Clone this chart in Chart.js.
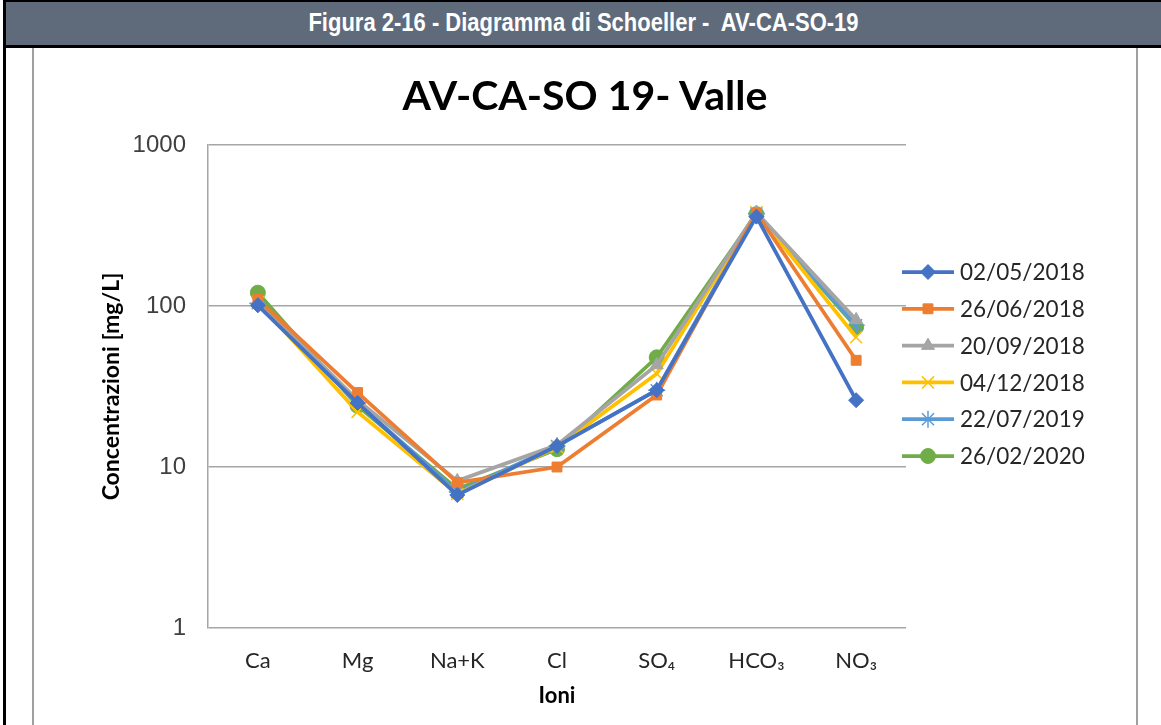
<!DOCTYPE html>
<html>
<head>
<meta charset="utf-8">
<script src="https://cdn.jsdelivr.net/npm/chart.js@4"></script>
<style>
  body { margin: 0; background: #fff; }
  #frame { position: absolute; left: 3px; top: 0; width: 1158px; height: 725px; border-left: 3px solid #000; border-top: 2px solid #000; box-sizing: border-box; }
  #header { position: absolute; left: 0; top: 0; width: 100%; height: 46px; background: #5f6b7a; border-bottom: 3px solid #000; box-sizing: border-box;
            color: #fff; font-family: "Liberation Sans", Arial, sans-serif; font-weight: bold; font-size: 22px; text-align: center; line-height: 42px; }
  #header span { display: inline-block; transform: scaleY(1.15); }
  #box { position: absolute; left: 32px; top: 48px; width: 1106px; height: 677px; border-left: 2px solid #a0a0a0; border-right: 2px solid #a0a0a0; box-sizing: border-box; }
  #wrap { position: absolute; left: 34px; top: 48px; width: 1102px; height: 677px; }
  #titolo { position: absolute; left: 34px; top: 70px; width: 1102px; text-align: center; font-family: Lato, "Open Sans", sans-serif;
            font-weight: bold; font-size: 41px; line-height: 50px; color: #000; }
</style>
</head>
<body>
<div id="frame"><div id="header"><span>Figura 2-16 - Diagramma di Schoeller -&nbsp; AV-CA-SO-19</span></div></div>
<div id="box"></div>
<div id="wrap"><canvas id="grafica"></canvas></div>
<div id="titolo">AV-CA-SO 19- Valle</div>
<script>
var ioni = ['Ca', 'Mg', 'Na+K', 'Cl', 'SO₄', 'HCO₃', 'NO₃'];
var date = ['02/05/2018', '26/06/2018', '20/09/2018', '04/12/2018', '22/07/2019', '26/02/2020'];
var tick_y = [1, 10, 100, 1000];

// concentrazioni in mg/L, una serie per campionamento
var c_020518 = [101, 25, 6.7, 13.5, 30, 359, 26];
var c_260618 = [110, 29, 8.0, 10, 28, 378, 46];
var c_200918 = [107, 26, 8.2, 13.7, 43, 380, 82];
var c_041218 = [106, 22, 6.8, 13.3, 38, 382, 64];
var c_220719 = [104, 25, 7.0, 13.5, 30, 375, 76];
var c_260220 = [121, 24, 7.3, 12.9, 48, 372, 74];

var colori = ['#4472c4', '#ed7d31', '#a5a5a5', '#ffc000', '#5b9bd5', '#70ad47'];
var simboli = ['rectRot', 'rect', 'triangle', 'crossRot', 'star', 'circle'];
var serie = [c_020518, c_260618, c_200918, c_041218, c_220719, c_260220];

var datasets = serie.map(function(s, i) {
	var linea = (simboli[i] == 'crossRot' || simboli[i] == 'star');
	return {
		label: date[i],
		data: s,
		borderColor: colori[i],
		backgroundColor: colori[i],
		borderWidth: 3.75,
		pointStyle: simboli[i],
		pointRadius: linea ? 8.5 : (simboli[i] == 'rect' ? 7 : 7.5),
		pointBorderWidth: linea ? 1.5 : 1,
		pointBorderColor: colori[i],
		pointBackgroundColor: colori[i],
		tension: 0
	};
});

// legenda disegnata a mano: linea + simbolo come in Excel
var legendaExcel = {
	id: 'legendaExcel',
	afterDraw: function(chart) {
		var ctx = chart.ctx;
		var a = chart.chartArea;
		var x0 = a.right - 4, x1 = a.right + 48, y0 = a.top + 127;
		chart.data.datasets.forEach(function(d, i) {
			var y = y0 + i * 36.8;
			ctx.save();
			ctx.strokeStyle = d.borderColor;
			ctx.lineWidth = 3.75;
			ctx.beginPath(); ctx.moveTo(x0, y); ctx.lineTo(x1, y); ctx.stroke();
			ctx.fillStyle = d.backgroundColor;
			ctx.lineWidth = d.pointBorderWidth;
			Chart.helpers.drawPoint(ctx, {pointStyle: d.pointStyle, rotation: 0, radius: d.pointRadius, borderWidth: d.pointBorderWidth}, (x0 + x1) / 2, y);
			ctx.fillStyle = '#262626';
			ctx.font = '22.5px Lato, "Open Sans", sans-serif';
			ctx.textBaseline = 'middle';
			ctx.fillText(d.label, x1 + 6, y + 1);
			ctx.restore();
		});
	}
};

var ctx = document.getElementById('grafica').getContext('2d');
var chart = new Chart(ctx, {
	type: 'line',
	data: { labels: ioni, datasets: datasets },
	plugins: [legendaExcel],
	options: {
		responsive: true,
		maintainAspectRatio: false,
		animation: false,
		layout: { padding: { left: 60, right: 230, top: 97, bottom: 16 } },
		plugins: {
			legend: { display: false },
			tooltip: { enabled: false },
			title: { display: false }
		},
		scales: {
			x: {
				offset: true,
				grid: { display: false, drawTicks: false },
				border: { display: false },
				afterFit: function(scale) { scale.height = 81; },
				ticks: { color: '#262626', padding: 20, font: { family: 'Lato, "Open Sans", sans-serif', size: 22 } },
				title: { display: true, text: 'Ioni', color: '#000', padding: { top: 10, bottom: 0 },
					font: { family: 'Lato, "Open Sans", sans-serif', size: 22, weight: 'bold' } }
			},
			y: {
				type: 'logarithmic',
				min: 1,
				max: 1000,
				afterBuildTicks: function(scale) {
					scale.ticks = tick_y.map(function(v) { return {value: v}; });
				},
				afterFit: function(scale) { scale.width = 114; },
				grid: { color: '#a6a6a6', lineWidth: 1.5, drawTicks: false },
				border: { display: true, color: '#a6a6a6', width: 1.5 },
				ticks: {
					color: '#404040', padding: 22,
					font: { family: '"Liberation Sans", Arial, sans-serif', size: 24 },
					callback: function(v) { return String(v); }
				},
				title: { display: true, text: 'Concentrazioni [mg/L]', color: '#000', padding: { top: 4, bottom: 0 },
					font: { family: 'Lato, "Open Sans", sans-serif', size: 23, weight: 'bold' } }
			}
		}
	}
});
</script>
</body>
</html>
